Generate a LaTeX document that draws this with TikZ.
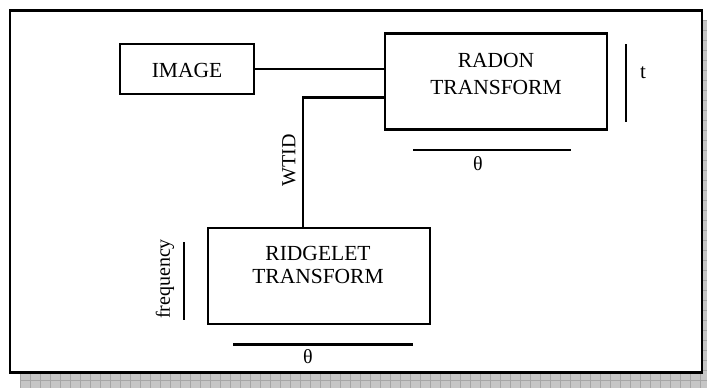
\documentclass[tikz,border=0pt]{standalone}
\usepackage{fontspec}
\setmainfont{Liberation Serif}
\begin{document}
\begin{tikzpicture}[x=1pt,y=-1pt,
  box/.style={draw=black,line width=2.4pt,fill=white,inner sep=0pt},
  txt/.style={font=\fontsize{21.5}{26}\selectfont,align=center,inner sep=0pt},
  lbl/.style={font=\fontsize{20}{22}\selectfont,inner sep=0pt},
  conn/.style={line width=2.1pt},
  axisbar/.style={line width=2.6pt}]
\useasboundingbox (0,0) rectangle (707,388);
% shadow
\begin{scope}
  \clip (20,374) rectangle (707,388) (703,20) rectangle (707,388);
  \fill[gray!45] (0,0) rectangle (707,388);
  \draw[gray!70,line width=0.6pt] (20,374) grid[step=10pt] (710,390);
  \draw[gray!70,line width=0.6pt] (700,20) grid[step=10pt] (710,390);
\end{scope}
% outer frame
\node[draw=black,line width=2.2pt,fill=white,minimum width=692,minimum height=362,inner sep=0pt] (frame) at (356,191.5) {};
% boxes
\node[box,minimum width=134,minimum height=50] (image) at (187,69) {};
\node[txt] (imagetxt) at (187,70) {IMAGE};
\node[box,minimum width=222,minimum height=96] (radon) at (496,81.5) {};
\node[txt,font=\fontsize{21.5}{27}\selectfont] (radontxt) at (496,73.5) {RADON\\TRANSFORM};
\node[box,minimum width=222,minimum height=96] (ridgelet) at (319,276) {};
\node[txt,font=\fontsize{21.5}{22.5}\selectfont] (ridgelettxt) at (318,265) {RIDGELET\\TRANSFORM};
% connectors
\draw[conn] (image.east) -- (image.east -| radon.west);
\coordinate (corner) at (303,97.5);
\draw[conn] (radon.west |- corner) -- (corner) -- (corner |- ridgelet.north);
\node[lbl,rotate=90] (wtid) at (289,160) {WTID};
% axis bars
\coordinate (tA) at (626,44); \coordinate (tB) at (626,122);
\draw[axisbar] (tA) -- (tB);
\node[lbl,font=\fontsize{21}{22}\selectfont] (tlbl) at (643,73) {t};
\coordinate (thA) at (413,150); \coordinate (thB) at (571,150);
\draw[axisbar] (thA) -- (thB);
\node[lbl] (th1) at (478,164) {θ};
\coordinate (fA) at (184,242); \coordinate (fB) at (184,320);
\draw[axisbar] (fA) -- (fB);
\node[lbl,rotate=90] (freq) at (165,279) {frequency};
\coordinate (th2A) at (233,344.5); \coordinate (th2B) at (413,344.5);
\draw[axisbar] (th2A) -- (th2B);
\node[lbl] (th2) at (308,357) {θ};
\end{tikzpicture}
\end{document}
